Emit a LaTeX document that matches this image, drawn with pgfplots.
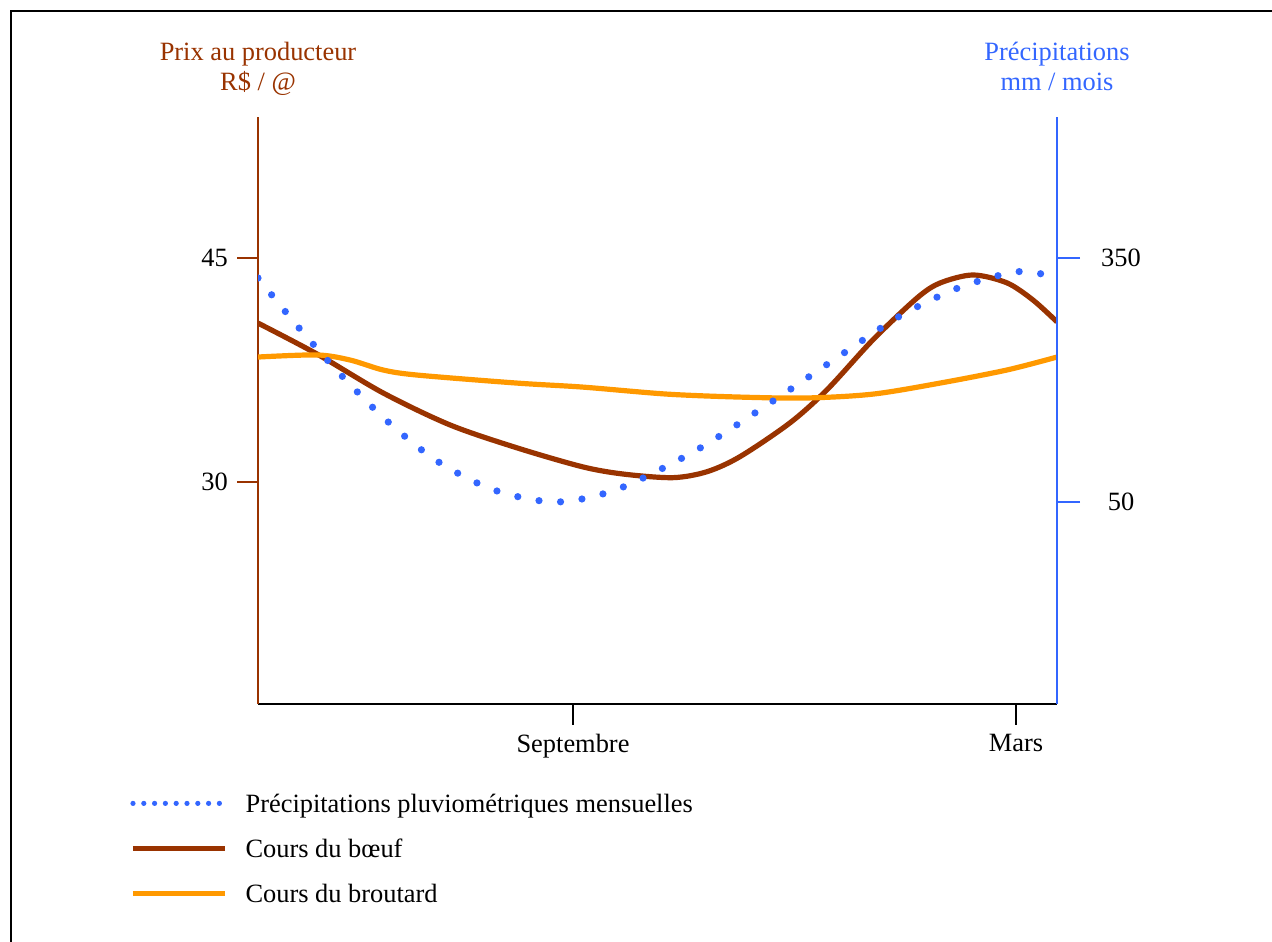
\documentclass[border=0pt]{standalone}
\usepackage{fontspec}
\setmainfont{Liberation Serif}
\usepackage{pgfplots}
\pgfplotsset{compat=1.18}
\definecolor{cbrown}{RGB}{153,51,0}
\definecolor{corange}{RGB}{255,153,0}
\definecolor{cblue}{RGB}{51,102,255}
\newcommand\f{\fontsize{13.2}{15.8}\selectfont}
\begin{document}
\f
\begin{tikzpicture}
\useasboundingbox (0,0) rectangle (636pt,470.5pt);
\draw[line width=1.2pt] (5.5pt,-30pt) -- (5.5pt,465pt) -- (680pt,465pt);
\node[anchor=base, text=cbrown, font=\f] at (129pt,440pt) {Prix au producteur};
\node[anchor=base, text=cbrown, font=\f] at (129pt,425pt) {R\$ / @};
\node[anchor=base, text=cblue, font=\f] at (528.5pt,440pt) {Précipitations};
\node[anchor=base, text=cblue, font=\f] at (528.5pt,425pt) {mm / mois};
\begin{axis}[at={(129pt,118.5pt)}, anchor=south west, scale only axis,
  width=399.5pt, height=293.5pt,
  xmin=-4.267, xmax=6.556, ymin=15.07, ymax=54.49,
  axis x line*=bottom, axis y line*=left,
  x axis line style={black, line width=0.9pt},
  y axis line style={cbrown, line width=0.9pt},
  xtick={0,6}, xticklabels={Septembre,Mars}, ytick={30,45},
  tick align=outside, major tick length=10.5pt,
  xtick style={black, line width=0.9pt},
  ytick style={cbrown, line width=0.9pt},
  tick label style={font=\f},
  /pgf/number format/assume math mode=true,
  legend cell align=left,
  legend style={draw=none, fill=none, at={(-0.1602,-0.1499)}, anchor=north west,
    font=\f, inner sep=0pt, row sep=9.5pt, column sep=9pt,
    nodes={inner sep=0pt, text height=10pt, text depth=3pt}},
  legend image code/.code={\draw[#1] (0pt,1pt) -- (46pt,1pt);},
]
\addlegendimage{cblue, line width=2.6pt, dash pattern=on 0pt off 5.4pt, line cap=round}
\addlegendentry{Précipitations pluviométriques mensuelles}
\addplot[cbrown, line width=2.6pt, smooth] coordinates {
(-4.267,40.65) (-3.467,38.57) (-2.573,35.96) (-1.666,33.81) (-0.758,32.27)
(0.135,30.99) (0.700,30.50) (1.354,30.27) (1.815,30.67) (2.262,31.68)
(2.939,33.95) (3.440,36.17) (4.063,39.53) (4.659,42.33) (4.971,43.34)
(5.418,43.88) (5.878,43.35) (6.230,42.2) (6.556,40.73)};
\addlegendentry{Cours du bœuf}
\addplot[corange, line width=2.6pt, smooth] coordinates {
(-4.267,38.37) (-3.467,38.51) (-3.020,38.17) (-2.573,37.50) (-2.113,37.16)
(-0.758,36.62) (0.135,36.35) (1.273,35.88) (2.262,35.68) (3.169,35.62)
(4.063,35.88) (4.971,36.62) (5.878,37.50) (6.556,38.37)};
\addlegendentry{Cours du broutard}
\end{axis}
\begin{axis}[at={(129pt,118.5pt)}, anchor=south west, scale only axis,
  width=399.5pt, height=293.5pt,
  xmin=-4.267, xmax=6.556, ymin=-199.4, ymax=524.2,
  axis x line=none, axis y line*=right,
  y axis line style={cblue, line width=0.9pt},
  ytick={50,350},
  tick align=outside, major tick length=11.5pt,
  ytick style={cblue, line width=0.9pt},
  yticklabel style={font=\f, anchor=center, xshift=20.5pt},
  /pgf/number format/assume math mode=true,
]
\addplot[cblue, line width=3.6pt, dash pattern=on 0pt off 10.8pt, line cap=round, smooth] coordinates {
(-4.267,325.7) (-3.711,264.1) (-3.129,204.9) (-2.519,149.5) (-1.842,100.1)
(-1.070,64.4) (-0.230,49.6) (0.609,65.6) (1.652,112.5) (2.628,169.2)
(3.589,228.3) (4.429,278.9) (5.215,313.4) (5.905,331.9) (6.190,333.1)
(6.474,328.2) (6.556,325.7)};
\end{axis}
\end{tikzpicture}
\end{document}
